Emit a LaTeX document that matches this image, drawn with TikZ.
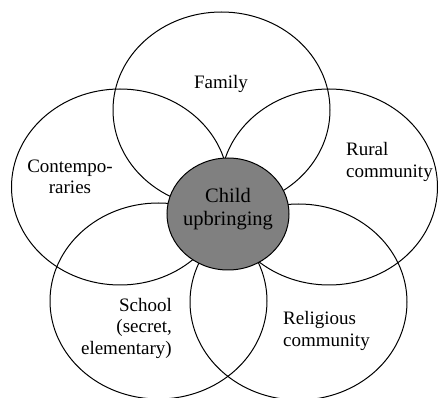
\documentclass[tikz,border=0pt]{standalone}
\usepackage{fontspec}
\setmainfont{Liberation Serif}
\usetikzlibrary{shapes.geometric}
\begin{document}
\begin{tikzpicture}[x=1pt,y=-1pt,
  ring/.style={ellipse,draw=black,line width=1pt,inner sep=0pt,minimum width=217pt,minimum height=196pt},
  hub/.style={ellipse,draw=black,fill=gray,line width=1pt,inner sep=0pt,minimum width=122pt,minimum height=112pt},
  lbl/.style={inner sep=0pt,font=\fontsize{19}{21.5}\selectfont},
  hublbl/.style={inner sep=0pt,font=\fontsize{20.5}{23}\selectfont,align=center}]
\useasboundingbox (0,0) rectangle (440,398);
\node[ring] (family) at (221.5,110) {};
\node[ring] (contemp) at (120,187) {};
\node[ring] (rural) at (329,187) {};
\node[ring] (school) at (158.5,301) {};
\node[ring] (relig) at (298.5,302) {};
\node[hub] (child) at (228,214) {};
\node[hublbl] (childlbl) at (228,209) {Child\\upbringing};
\node[lbl,anchor=base] (familylbl) at (221,89) {Family};
\node[lbl,align=center] (contemplbl) at (70,177) {Contempo-\\raries};
\node[lbl,align=left,anchor=west] (rurallbl) at (346,162) {Rural\\community};
\node[lbl,align=right,anchor=east] (schoollbl) at (172,328) {School\\(secret,\\elementary)};
\node[lbl,align=left,anchor=west] (religlbl) at (283,331) {Religious\\community};
\end{tikzpicture}
\end{document}
